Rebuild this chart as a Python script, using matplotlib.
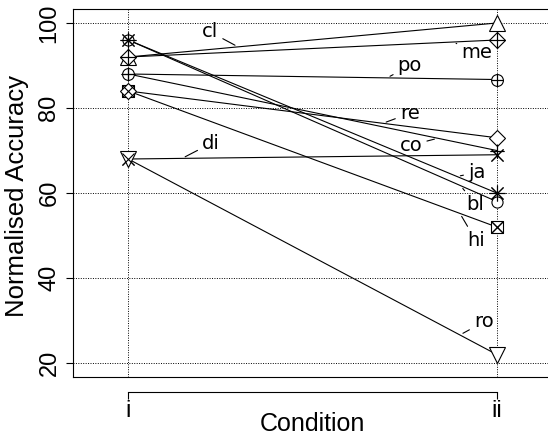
import matplotlib
matplotlib.use("Agg")
import matplotlib.pyplot as plt
import numpy as np

# ---------------- data ----------------
conditions = ["i", "ii"]
series = ["bl", "cl", "co", "di", "hi", "ja", "me", "po", "re", "ro"]
acc_i = [96, 92, 88, 68, 84, 96, 92, 88, 84, 68]
acc_ii = [58, 100, 70, 69, 52, 60, 96, 86.7, 73, 22]
yticks = [20, 40, 60, 80, 100]

# ---------------- style / layout ----------------
W, H, DPI = 548, 441, 100
markers = {
    "bl": [("o", 8)],
    "cl": [("^", 11)],
    "co": [("+", 10)],
    "di": [("x", 8)],
    "hi": [("s", 8), ("x", 8)],
    "ja": [("+", 11), ("x", 8.5)],
    "me": [("D", 8), ("+", 11)],
    "po": [("o", 8.5), ("+", 8.5)],
    "re": [("D", 8)],
    "ro": [("v", 11)],
}
# label placement: fraction along the line, offset of text centre in pixels
label_pos = {
    "cl": (0.298, -28, 15),
    "me": (0.881, 24, -10),
    "po": (0.702, 23, 12),
    "re": (0.691, 27, 10),
    "co": (0.840, -27, -7),
    "ja": (0.892, 20, 4),
    "bl": (0.902, 15, -19),
    "hi": (0.900, 16, -27),
    "di": (0.146, 29, 15),
    "ro": (0.900, 24, 13),
}

axfont = "Liberation Sans"
lblfont = "DejaVu Sans"
LW = 0.8

fig = plt.figure(figsize=(W / DPI, H / DPI), dpi=DPI)
left_px, right_px, top_px, bot_px = 73, 552, 9.4, 376.6
ax = fig.add_axes([left_px / W, 1 - bot_px / H, (right_px - left_px) / W, (bot_px - top_px) / H])

xpos = np.arange(1, len(conditions) + 1)
ax.set_xlim(0.85, 2.15)
ax.set_ylim(16.8, 103.2)

# grid
for y in yticks:
    ax.axhline(y, color="black", lw=0.7, ls=(0, (1, 1.5)), zorder=1)
for x in xpos:
    ax.axvline(x, color="black", lw=0.7, ls=(0, (1, 1.5)), zorder=1)

# lines + markers
for k, name in enumerate(series):
    ys = [acc_i[k], acc_ii[k]]
    ax.plot(xpos, ys, color="black", lw=LW, zorder=3)
    for m, ms in markers[name]:
        ax.plot(xpos, ys, ls="none", marker=m, ms=ms, mfc="white" if m in "o^vsD" else "none",
                mec="black", mew=LW, zorder=4)
    for m, ms in markers[name]:
        if m in "+x":
            ax.plot(xpos, ys, ls="none", marker=m, ms=ms, mec="black", mew=LW, zorder=5)

# labels with leader lines
for k, name in enumerate(series):
    t, dx, dy = label_pos[name]
    xt = xpos[0] + t * (xpos[1] - xpos[0])
    yt = acc_i[k] + t * (acc_ii[k] - acc_i[k])
    ax.annotate(name, xy=(xt, yt), xytext=(dx, dy), textcoords="offset pixels",
                ha="center", va="center", fontsize=14, family=lblfont,
                arrowprops=dict(arrowstyle="-", color="black", lw=0.8,
                                shrinkA=1.5, shrinkB=2.5), zorder=6)

# axes / spines
ax.spines["left"].set_linewidth(LW)
ax.spines["top"].set_linewidth(LW)
ax.spines["right"].set_visible(False)
ax.spines["bottom"].set_position(("outward", 11))
ax.spines["bottom"].set_bounds(1, 2)
ax.spines["bottom"].set_linewidth(LW)
ax.plot([0, 1], [0, 0], transform=ax.transAxes, color="black", lw=LW, clip_on=False, zorder=7)

ax.set_yticks(yticks)
ax.set_yticklabels([str(v) for v in yticks], rotation=90, va="center", family=axfont, fontsize=17)
ax.set_xticks(xpos)
ax.set_xticklabels(conditions, family=axfont, fontsize=17)
ax.tick_params(axis="y", direction="out", length=5, width=LW, pad=4)
ax.tick_params(axis="x", direction="out", length=5, width=LW, pad=1)

fig.text(17 / W, 1 - 196 / H, "Normalised Accuracy", rotation=90, ha="center", va="center",
         family=axfont, fontsize=18.5)
fig.text(312 / W, 1 - 424 / H, "Condition", ha="center", va="center", family=axfont, fontsize=18)

fig.savefig("out.png", dpi=DPI)
